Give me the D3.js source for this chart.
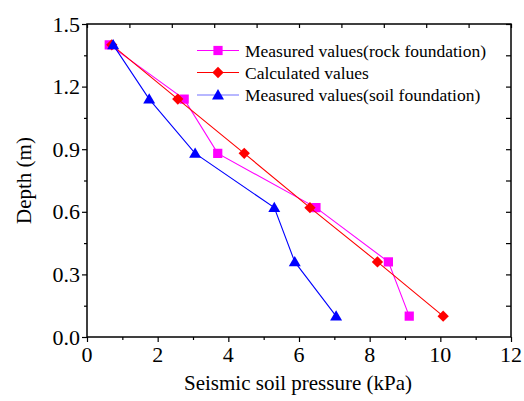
<!DOCTYPE html>
<html><head><meta charset="utf-8">
<script src="https://cdn.jsdelivr.net/npm/d3@7"></script>
<style>
svg text, text, .tick text { font-family: "Liberation Serif", "Times New Roman", serif !important; }
</style>
</head><body style="margin:0">
<svg id="c" width="524" height="401"></svg>
<script>
const depths = [1.4, 1.14, 0.88, 0.62, 0.36, 0.1];
const rockMeasured = [0.63, 2.75, 3.7, 6.48, 8.53, 9.12];
const calculated = [0.7, 2.57, 4.45, 6.31, 8.22, 10.08];
const soilMeasured = [0.74, 1.76, 3.06, 5.3, 5.88, 7.05];
const seriesNames = ["Measured values(rock foundation)", "Calculated values", "Measured values(soil foundation)"];
const seriesColors = ["#ff00ff", "#ff0000", "#0000ff"];
const legendLineColors = ["#ff00ff", "#ff0000", "#7070ff"];
const xTicks = [0, 2, 4, 6, 8, 10, 12];
const yTicks = [0.0, 0.3, 0.6, 0.9, 1.2, 1.5];

const svg = d3.select("#c");
const L = 87, R = 511, T = 24, B = 337;
const x = d3.scaleLinear().domain([0, 12]).range([L, R]);
const y = d3.scaleLinear().domain([0, 1.5]).range([B, T]);

function label(sel, txt, size) {
  return sel.attr("font-family", "Liberation Serif").attr("font-size", size).attr("fill", "#000").text(txt);
}

// frame
svg.append("rect").attr("x", L).attr("y", T).attr("width", R - L).attr("height", B - T)
  .attr("fill", "none").attr("stroke", "#000").attr("stroke-width", 1.5);

// bottom axis (ticks only; labels drawn as plain text below)
const gx = svg.append("g").attr("transform", `translate(0,${B})`)
  .call(d3.axisBottom(x).tickValues(xTicks).tickSize(5).tickFormat(""));
svg.append("g").attr("transform", `translate(0,${B})`)
  .call(d3.axisBottom(x).tickValues(d3.range(1, 12, 2)).tickSize(3).tickFormat(""));
// left axis
const gy = svg.append("g").attr("transform", `translate(${L},0)`)
  .call(d3.axisLeft(y).tickValues(yTicks).tickSize(5).tickFormat(""));
svg.append("g").attr("transform", `translate(${L},0)`)
  .call(d3.axisLeft(y).tickValues(d3.range(0.15, 1.5, 0.3)).tickSize(3).tickFormat(""));
// top axis (inward ticks, 10 divisions)
const xt = d3.scaleLinear().domain([0, 10]).range([L, R]);
svg.append("g").attr("transform", `translate(0,${T})`)
  .call(d3.axisBottom(xt).ticks(10).tickSize(4).tickFormat(""));
// right axis (inward ticks)
svg.append("g").attr("transform", `translate(${R},0)`)
  .call(d3.axisLeft(y).tickValues(d3.range(0.15, 1.5, 0.15)).tickSize(5).tickFormat(""));

svg.selectAll(".domain").remove();
svg.selectAll(".tick text").remove();
svg.selectAll(".tick line").attr("stroke", "#000").attr("stroke-width", 1.2);

// tick labels as plain text
xTicks.forEach(v => label(svg.append("text").attr("x", x(v)).attr("y", B + 25)
  .attr("text-anchor", "middle"), d3.format("d")(v), 22));
yTicks.forEach(v => label(svg.append("text").attr("x", L - 7).attr("y", y(v) + 7.5)
  .attr("text-anchor", "end"), d3.format(".1f")(v), 22));

// axis titles
label(svg.append("text").attr("x", 298).attr("y", 390).attr("text-anchor", "middle"),
  "Seismic soil pressure (kPa)", 21);
label(svg.append("text").attr("transform", `translate(31,${(T + B) / 2}) rotate(-90)`)
  .attr("text-anchor", "middle"), "Depth (m)", 21);

const series = [rockMeasured, calculated, soilMeasured];
const line = d3.line().x(d => x(d[0])).y(d => y(d[1]));
const sq = d3.symbol().type(d3.symbolSquare).size(85);
const dm = d3.symbol().type(d3.symbolSquare).size(64);
const tr = d3.symbol().type(d3.symbolTriangle).size(62);
const syms = [sq, dm, tr];
const rot = [0, 45, 0];
const dyOff = [0, 0, 1];

series.forEach((vals, i) => {
  const pts = vals.map((v, j) => [v, depths[j]]);
  svg.append("path").attr("d", line(pts)).attr("fill", "none")
    .attr("stroke", seriesColors[i]).attr("stroke-width", 1.1);
  svg.append("g").selectAll("path").data(pts).join("path")
    .attr("transform", d => `translate(${x(d[0])},${y(d[1]) + dyOff[i]}) rotate(${rot[i]})`)
    .attr("d", syms[i]()).attr("fill", seriesColors[i]);
});

// legend
const rows = [50.5, 72.5, 95];
seriesNames.forEach((n, i) => {
  svg.append("line").attr("x1", 197).attr("x2", 239).attr("y1", rows[i]).attr("y2", rows[i])
    .attr("stroke", legendLineColors[i]).attr("stroke-width", 1.1);
  svg.append("path").attr("transform", `translate(218,${rows[i] + dyOff[i]}) rotate(${rot[i]})`)
    .attr("d", syms[i]()).attr("fill", seriesColors[i]);
  label(svg.append("text").attr("x", 245).attr("y", rows[i] + 6), n, 17.5);
});
</script>
</body></html>
